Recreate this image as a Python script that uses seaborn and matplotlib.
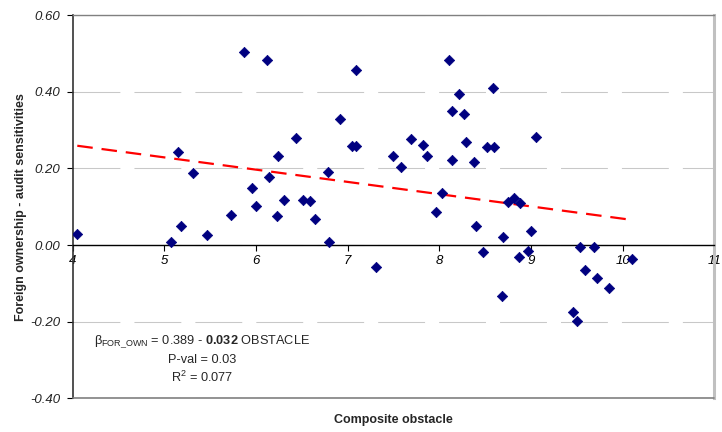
import numpy as np
import pandas as pd
import matplotlib
matplotlib.use("Agg")
import matplotlib.pyplot as plt
import seaborn as sns

# composite obstacle score per country (x) and foreign ownership audit sensitivity (y)
obstacle = [4.05, 5.07, 5.15, 5.18, 5.31, 5.47, 5.73, 5.87, 5.96, 6.00,
            6.12, 6.14, 6.23, 6.24, 6.31, 6.44, 6.51, 6.59, 6.64, 6.78,
            6.80, 6.92, 7.05, 7.09, 7.09, 7.31, 7.50, 7.58, 7.69, 7.82,
            7.87, 7.96, 8.03, 8.11, 8.14, 8.14, 8.22, 8.27, 8.29, 8.38,
            8.40, 8.48, 8.52, 8.59, 8.60, 8.68, 8.70, 8.75, 8.81, 8.88,
            8.87, 8.97, 9.00, 9.06, 9.46, 9.50, 9.53, 9.59, 9.69, 9.72,
            9.85, 10.10]
sensitivity = [0.030, 0.007, 0.244, 0.049, 0.189, 0.027, 0.079, 0.503, 0.150, 0.101,
               0.482, 0.178, 0.077, 0.232, 0.117, 0.280, 0.119, 0.114, 0.068, 0.191,
               0.008, 0.330, 0.260, 0.259, 0.457, -0.058, 0.233, 0.203, 0.278, 0.262,
               0.233, 0.086, 0.136, 0.484, 0.351, 0.222, 0.395, 0.342, 0.270, 0.218,
               0.049, -0.018, 0.257, 0.409, 0.257, -0.132, 0.021, 0.113, 0.123, 0.109,
               -0.031, -0.016, 0.036, 0.281, -0.175, -0.197, -0.004, -0.064, -0.006, -0.086,
               -0.113, -0.035]

# fitted trend (from the regression shown on the chart)
intercept = 0.389
slope = -0.032

df = pd.DataFrame({"obstacle": obstacle, "sensitivity": sensitivity})

sns.set_style("white")
plt.rcParams["font.family"] = ["Liberation Sans", "DejaVu Sans"]
plt.rcParams["mathtext.fontset"] = "custom"
plt.rcParams["mathtext.rm"] = "Liberation Sans"
plt.rcParams["mathtext.it"] = "Liberation Sans:italic"
plt.rcParams["mathtext.bf"] = "Liberation Sans:bold"

fig = plt.figure(figsize=(7.22, 4.32), dpi=100)
ax = fig.add_axes([0.1007, 0.078, 0.8886, 0.8866])

sns.scatterplot(data=df, x="obstacle", y="sensitivity", marker="D", color="#000080",
                edgecolor="#000080", s=28, linewidth=0.5, ax=ax, zorder=3)

xs = np.linspace(df["obstacle"].min(), df["obstacle"].max(), 50)
ax.plot(xs, intercept + slope * xs, color="red", lw=1.6, ls=(0, (7, 4)), zorder=2)

ax.set_xlim(4, 11)
ax.set_ylim(-0.4, 0.6)
ax.set_xticks(range(4, 12))
ax.set_yticks(np.arange(-0.4, 0.61, 0.2))
ax.yaxis.set_major_formatter(matplotlib.ticker.FormatStrFormatter("%.2f"))

# dashed gray horizontal grid
ax.grid(axis="y", color="#c8c8c8", lw=0.75, ls=(0, (45, 13.5)), zorder=1)
ax.set_axisbelow(True)

# x axis crosses at zero, Excel style
ax.spines["bottom"].set_position(("data", 0))
ax.spines["bottom"].set_color("black")
ax.spines["bottom"].set_linewidth(1.0)
ax.spines["left"].set_color("#333333")
ax.spines["left"].set_linewidth(1.2)
ax.spines["top"].set_color("#808080")
ax.spines["top"].set_linewidth(1.0)
ax.spines["right"].set_color("#c0c0c0")
ax.spines["right"].set_linewidth(2.2)
ax.axhline(-0.4, color="#808080", lw=1.2, clip_on=False, zorder=4)

ax.tick_params(axis="x", direction="out", length=4, width=0.8, pad=3, labelsize=9.5,
               bottom=True, colors="black")
ax.tick_params(axis="y", direction="out", length=4, width=0.8, pad=5, labelsize=9.5,
               left=True, colors="black")
for lbl in ax.get_xticklabels() + ax.get_yticklabels():
    lbl.set_fontstyle("italic")
for lbl in ax.get_yticklabels():
    lbl.set_color("#222222")

ax.set_xlabel("Composite obstacle", fontsize=9, fontweight="bold")
ax.xaxis.set_label_coords(0.5, -0.057)
ax.xaxis.label.set_va("center")
ax.set_ylabel("Foreign ownership - audit sensitivities", fontsize=9, fontweight="bold")
ax.yaxis.set_label_coords(-0.08, 0.5)
ax.yaxis.label.set_va("center")

# regression summary
ax.text(0.2023, 0.148, "β$_{\\mathrm{FOR\\_OWN}}$ = 0.389 - $\\mathbf{0.032}$ OBSTACLE",
        transform=ax.transAxes, ha="center", va="center", fontsize=9.2)
ax.text(0.2023, 0.100, "P-val = 0.03", transform=ax.transAxes, ha="center", va="center",
        fontsize=9.2)
ax.text(0.2023, 0.055, r"R$^2$ = 0.077", transform=ax.transAxes, ha="center", va="center",
        fontsize=9.2)

plt.savefig("out.png", dpi=100)
